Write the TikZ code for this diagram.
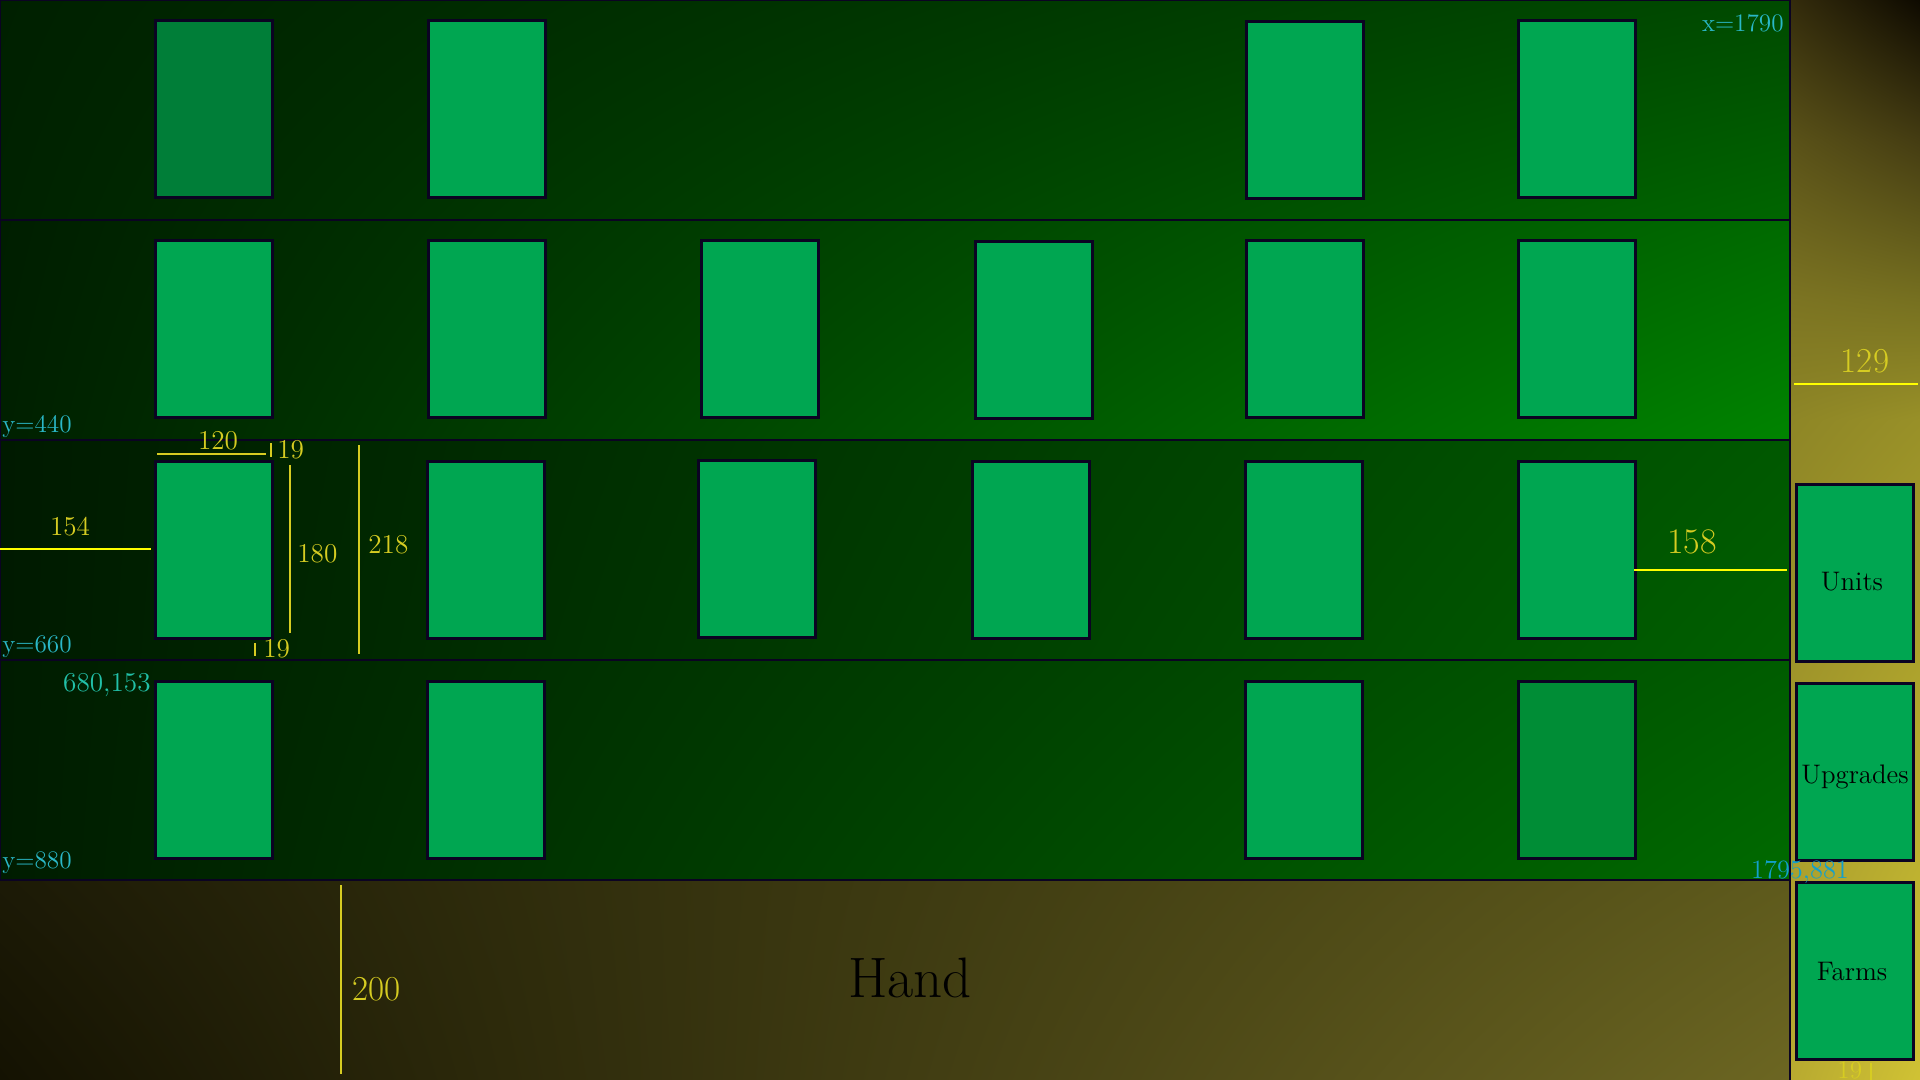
\documentclass[tikz,border=0pt]{standalone}
\usetikzlibrary{shadings}
\definecolor{cardfill}{HTML}{00A651}
\definecolor{carddark}{HTML}{007E38}
\definecolor{cardmid}{HTML}{008D36}
\definecolor{edge}{HTML}{0B0322}
\definecolor{cyanlbl}{HTML}{2AB8C8}
\definecolor{teallbl}{HTML}{22C0A8}
\definecolor{bluelbl}{HTML}{12A0CC}
\definecolor{dimyel}{HTML}{D6CC22}
\definecolor{brightyel}{HTML}{FFFF00}
\begin{document}
\begin{tikzpicture}[x=0.5pt,y=-0.5pt,
  card/.style={draw=edge,line width=1.5pt,fill=cardfill,minimum width=58.5pt,minimum height=88.5pt,inner sep=0pt},
  rowedge/.style={draw=edge,line width=1pt},
  coordlbl/.style={inner sep=0pt,font=\fontsize{12.6}{14}\selectfont},
  dimlbl/.style={inner sep=0pt,text=dimyel,font=\fontsize{13.6}{15}\selectfont},
  dimline/.style={draw=dimyel,line width=1pt},
  brightline/.style={draw=brightyel,line width=1.3pt},
  paneltext/.style={inner sep=0pt,text=black,font=\fontsize{13.4}{15}\selectfont}
]
\useasboundingbox (0,0) rectangle (1920,1080);
% --- backgrounds ---
\shade[upper left={rgb,255:red,0;green,32;blue,0}, upper right={rgb,255:red,0;green,74;blue,0},
       lower left={rgb,255:red,0;green,34;blue,0}, lower right={rgb,255:red,0;green,102;blue,0}] (0,0) rectangle (1790,220);
\shade[upper left={rgb,255:red,0;green,30;blue,0}, upper right={rgb,255:red,0;green,106;blue,0},
       lower left={rgb,255:red,0;green,32;blue,0}, lower right={rgb,255:red,0;green,132;blue,0}] (0,220) rectangle (1790,440);
\shade[upper left={rgb,255:red,0;green,26;blue,0}, upper right={rgb,255:red,0;green,88;blue,0},
       lower left={rgb,255:red,0;green,26;blue,0}, lower right={rgb,255:red,0;green,96;blue,0}] (0,440) rectangle (1790,660);
\shade[upper left={rgb,255:red,0;green,28;blue,0}, upper right={rgb,255:red,0;green,92;blue,0},
       lower left={rgb,255:red,0;green,28;blue,0}, lower right={rgb,255:red,0;green,106;blue,0}] (0,660) rectangle (1790,880);
\shade[upper left={rgb,255:red,28;green,26;blue,6}, upper right={rgb,255:red,94;green,90;blue,28},
       lower left={rgb,255:red,20;green,18;blue,2}, lower right={rgb,255:red,108;green,102;blue,34}] (0,880) rectangle (1790,1080);
% right panel
\shade[upper left={rgb,255:red,52;green,44;blue,12}, upper right={rgb,255:red,14;green,10;blue,0},
       lower left={rgb,255:red,90;green,82;blue,24}, lower right={rgb,255:red,68;green,60;blue,18}] (1790,0) rectangle (1920,140);
\shade[upper left={rgb,255:red,90;green,82;blue,24}, upper right={rgb,255:red,68;green,60;blue,18},
       lower left={rgb,255:red,124;green,116;blue,34}, lower right={rgb,255:red,118;green,112;blue,32}] (1790,140) rectangle (1920,300);
\shade[upper left={rgb,255:red,124;green,116;blue,34}, upper right={rgb,255:red,118;green,112;blue,32},
       lower left={rgb,255:red,142;green,134;blue,38}, lower right={rgb,255:red,152;green,144;blue,40}] (1790,300) rectangle (1920,420);
\shade[upper left={rgb,255:red,142;green,134;blue,38}, upper right={rgb,255:red,152;green,144;blue,40},
       lower left={rgb,255:red,184;green,170;blue,48}, lower right={rgb,255:red,208;green,194;blue,52}] (1790,420) rectangle (1920,1080);
% row borders and divider
\draw[rowedge] (0,0) rectangle (1790,220);
\draw[rowedge] (0,220) rectangle (1790,440);
\draw[rowedge] (0,440) rectangle (1790,660);
\draw[rowedge] (0,660) rectangle (1790,880);
\draw[rowedge] (1790,0) -- (1790,1080);
% --- cards ---
% row 1
\node[card,fill=carddark] (r1c1) at (214,109) {};
\node[card] (r1c2) at (487,109) {};
\node[card] (r1c5) at (1305,110) {};
\node[card] (r1c6) at (1577,109) {};
% row 2
\node[card] (r2c1) at (214,329) {};
\node[card] (r2c2) at (487,329) {};
\node[card] (r2c3) at (760,329) {};
\node[card] (r2c4) at (1034,330) {};
\node[card] (r2c5) at (1305,329) {};
\node[card] (r2c6) at (1577,329) {};
% row 3
\node[card] (r3c1) at (214,550) {};
\node[card] (r3c2) at (486,550) {};
\node[card] (r3c3) at (757,549) {};
\node[card] (r3c4) at (1031,550) {};
\node[card] (r3c5) at (1304,550) {};
\node[card] (r3c6) at (1577,550) {};
% row 4
\node[card] (r4c1) at (214,770) {};
\node[card] (r4c2) at (486,770) {};
\node[card] (r4c5) at (1304,770) {};
\node[card,fill=cardmid] (r4c6) at (1577,770) {};
% panel cards
\node[card] (units) at (1855,573) {};
\node[card] (upgrades) at (1855,772) {};
\node[card] (farms) at (1855,971) {};
\node[paneltext,anchor=base] (unitsT) at (1852,590) {Units};
\node[paneltext,anchor=base] (upgradesT) at (1855,783) {Upgrades};
\node[paneltext,anchor=base] (farmsT) at (1852,980) {Farms};
% hand
\node[inner sep=0pt,anchor=base,text=black,font=\fontsize{28.5}{32}\selectfont] (hand) at (910,997) {Hand};
% --- coordinate labels ---
\node[coordlbl,text=cyanlbl,anchor=base west] (y440) at (2,432) {y=440};
\node[coordlbl,text=cyanlbl,anchor=base west] (y660) at (2,652) {y=660};
\node[coordlbl,text=cyanlbl,anchor=base west] (y880) at (2,868) {y=880};
\node[coordlbl,text=cyanlbl,anchor=base east] (x1790) at (1784,32) {x=1790};
\node[coordlbl,text=teallbl,anchor=base east,font=\fontsize{13.6}{15}\selectfont] (c680) at (151,691) {680,153};
\node[coordlbl,text=bluelbl,anchor=base,font=\fontsize{13.2}{15}\selectfont] (c1795) at (1800,878) {1795,881};
% --- dimension marks ---
\draw[dimline] (157,454) -- (266,454);
\node[dimlbl,anchor=base] (d120) at (218,449) {120};
\draw[dimline] (271,443) -- (271,457);
\node[dimlbl,anchor=base west] (d19a) at (277,458) {19};
\draw[dimline] (290,465) -- (290,633);
\node[dimlbl,anchor=base west] (d180) at (297,562) {180};
\draw[dimline] (359,445) -- (359,654);
\node[dimlbl,anchor=base west] (d218) at (368,553) {218};
\draw[brightline] (0,549) -- (151,549);
\node[dimlbl,anchor=base] (d154) at (70,535) {154};
\draw[dimline] (255,643) -- (255,656);
\node[dimlbl,anchor=base west] (d19b) at (263,657) {19};
\draw[brightline] (1634,570) -- (1787,570);
\node[dimlbl,anchor=base,font=\fontsize{18}{20}\selectfont] (d158) at (1692,553) {158};
\draw[brightline] (1794,384) -- (1918,384);
\node[dimlbl,anchor=base,font=\fontsize{17.5}{20}\selectfont] (d129) at (1865,372) {129};
\draw[dimline] (341,885) -- (341,1074);
\node[dimlbl,anchor=base west,font=\fontsize{17.5}{20}\selectfont] (d200) at (352,1000) {200};
\draw[dimline] (1871,1063) -- (1871,1080);
\node[dimlbl,anchor=base west,font=\fontsize{12.6}{14}\selectfont] (d19c) at (1837,1078) {19};
\end{tikzpicture}
\end{document}
